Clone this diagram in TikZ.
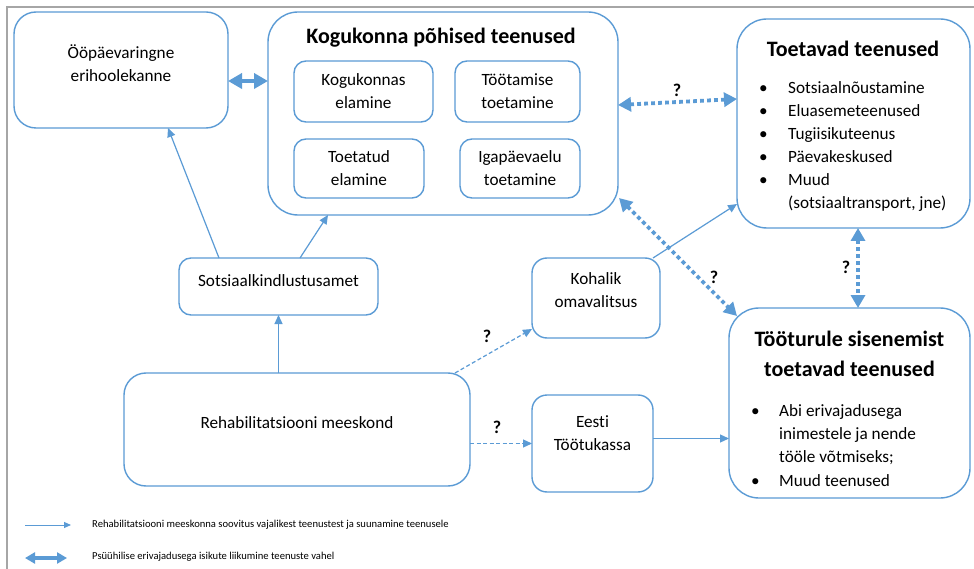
\documentclass[tikz,border=0pt]{standalone}
\usepackage{fontspec}
\setmainfont{Carlito}[Ligatures=NoCommon]
\usetikzlibrary{arrows.meta,calc}
\definecolor{obl}{RGB}{91,155,213}
\definecolor{frm}{RGB}{166,166,166}
\tikzset{
  box/.style={draw=obl,line width=1.4pt,inner sep=0pt,outer sep=0pt,fill=white},
  body/.style={font=\fontsize{17.2}{23}\selectfont,align=center,inner sep=0pt},
  ttl/.style={font=\fontsize{22}{30}\selectfont\bfseries,align=center,inner sep=0pt},
  qm/.style={font=\fontsize{18}{20}\selectfont\bfseries,inner sep=0pt},
  leg/.style={font=\fontsize{10.6}{12}\selectfont,inner sep=0pt,anchor=west},
  thinarr/.style={draw=obl,line width=1.2pt,-{Triangle[length=9pt,width=8pt]}},
  dasharr/.style={thinarr,dash pattern=on 4pt off 2.5pt},
  dotarr/.style={draw=obl,line width=3.8pt,dash pattern=on 3.8pt off 3.2pt,
     {Triangle[length=13pt,width=14pt]}-{Triangle[length=13pt,width=14pt]}},
  thickdbl/.style={draw=obl,line width=4.5pt,
     {Triangle[length=14pt,width=15pt]}-{Triangle[length=14pt,width=15pt]}},
}
\begin{document}
\begin{tikzpicture}[x=1pt,y=-1pt]
\useasboundingbox (0,0) rectangle (974,569);
\fill[white] (0,0) rectangle (974,569);
\draw[frm,line width=1.5pt] (7,569) -- (7,7) -- (974,7);

% boxes
\node[box,rounded corners=22pt,minimum width=214pt,minimum height=116pt] (oo) at (121,70) {};
\node[body] (ootxt) at (121,63.5) {Ööpäevaringne\\erihoolekanne};

\node[box,rounded corners=30pt,minimum width=350pt,minimum height=203pt] (kog) at (443,113.5) {};
\node[ttl] (kogtxt) at (441,38) {Kogukonna põhised teenused};
\node[box,body,rounded corners=12pt,minimum width=139pt,minimum height=61pt] (kin1) at (363.5,91.5) {Kogukonnas\\elamine};
\node[box,body,rounded corners=12pt,minimum width=125pt,minimum height=61pt] (kin2) at (517.5,91.5) {Töötamise\\toetamine};
\node[box,body,rounded corners=12pt,minimum width=130pt,minimum height=59pt] (kin3) at (359,168.5) {Toetatud\\elamine};
\node[box,body,rounded corners=12pt,minimum width=120pt,minimum height=59pt] (kin4) at (520,168.5) {Igapäevaelu\\toetamine};

\node[box,rounded corners=30pt,minimum width=233pt,minimum height=209pt] (toet) at (853.5,123.5) {};
\node[ttl] (toettxt) at (853,49) {Toetavad teenused};
\node[body,align=left,anchor=base west] (toetlist) at (759,94)
 {\begin{tabular}[t]{@{}p{29pt}@{}l@{}}
  \textbullet & Sotsiaalnõustamine\\
  \textbullet & Eluasemeteenused\\
  \textbullet & Tugiisikuteenus\\
  \textbullet & Päevakeskused\\
  \textbullet & Muud\\
   & (sotsiaaltransport, jne)
  \end{tabular}};

\node[box,rounded corners=12pt,minimum width=199pt,minimum height=57pt] (sots) at (278.5,286.5) {};
\node[body] (sotstxt) at (278.5,281) {Sotsiaalkindlustusamet};

\node[box,rounded corners=22pt,minimum width=346pt,minimum height=113pt] (rehab) at (297,429.5) {};
\node[body] (rehabtxt) at (297,423) {Rehabilitatsiooni meeskond};

\node[box,rounded corners=15pt,minimum width=128pt,minimum height=80pt] (koh) at (596,298) {};
\node[body] (kohtxt) at (596,290.5) {Kohalik\\omavalitsus};

\node[box,rounded corners=15pt,minimum width=121pt,minimum height=97pt] (eesti) at (592.5,443.5) {};
\node[body] (eestitxt) at (592.5,433) {Eesti\\Töötukassa};

\node[box,rounded corners=30pt,minimum width=241pt,minimum height=190pt] (too) at (849.5,403) {};
\node[ttl] (tootxt) at (849.5,354) {Tööturule sisenemist\\toetavad teenused};
\node[body,align=left,anchor=base west] (toolist) at (751,416)
 {\begin{tabular}[t]{@{}p{28pt}@{}l@{}}
  \textbullet & Abi erivajadusega\\
   & inimestele ja nende\\
   & tööle võtmiseks;\\[1.5pt]
  \textbullet & Muud teenused
  \end{tabular}};

% connectors
\draw[thickdbl] (oo.east |- 0,81) -- (kog.west |- 0,81);
\draw[thinarr] ([xshift=-59.5pt]sots.north) -- ([xshift=47pt]oo.south);
\draw[thinarr] ([xshift=21.5pt]sots.north) -- ([xshift=-115pt]kog.south);
\draw[thinarr] (sots.south |- rehab.north) -- (sots.south);
\draw[dasharr] ([xshift=158pt]rehab.north) -- ([yshift=-31pt]koh.west);
\draw[dasharr] (eesti.west -| rehab.east) -- (eesti.west);
\draw[thinarr] ([yshift=5pt]eesti.east) -- ([yshift=5pt]eesti.east -| too.west);
\draw[thinarr] ([xshift=-7pt]koh.north east) -- ([yshift=-80.5pt]toet.west);
\draw[dotarr] ([yshift=8.5pt]kog.east) -- ([yshift=24.5pt]toet.west);
\draw[dotarr] ([xshift=1pt,yshift=-84.5pt]kog.east) -- ([xshift=8pt,yshift=-8pt]too.north west);
\draw[dotarr] ([xshift=4.5pt]toet.south) -- ([xshift=4.5pt]toet.south |- too.north);

% question marks
\node[qm] (q1) at (677,90) {?};
\node[qm] (q2) at (714,277) {?};
\node[qm] (q3) at (846,267) {?};
\node[qm] (q4) at (487,336) {?};
\node[qm] (q5) at (497,427) {?};

% legend
\coordinate (la1) at (25,525);
\coordinate (la2) at (71,525);
\draw[draw=obl,line width=1pt,-{Triangle[length=7pt,width=6pt]}] (la1) -- (la2);
\node[leg] (lat) at (92,525) {Rehabilitatsiooni meeskonna soovitus vajalikest teenustest ja suunamine teenusele};
\coordinate (lb1) at (25,558);
\coordinate (lb2) at (67,558);
\draw[draw=obl,line width=3.5pt,{Triangle[length=10pt,width=11pt]}-{Triangle[length=10pt,width=11pt]}] (lb1) -- (lb2);
\node[leg] (lbt) at (92,557) {Psüühilise erivajadusega isikute liikumine teenuste vahel};
\end{tikzpicture}
\end{document}
